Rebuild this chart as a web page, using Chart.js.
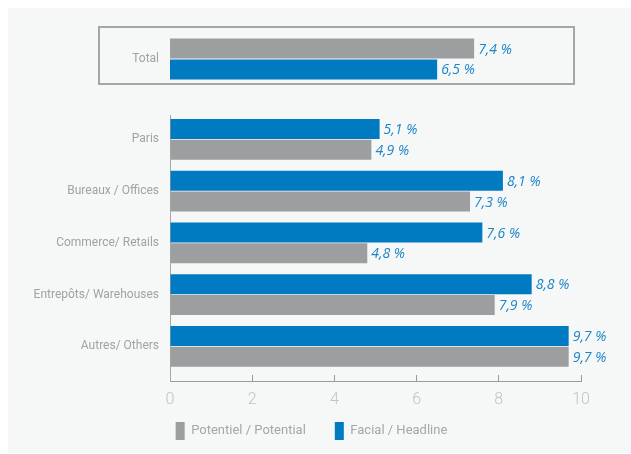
<!DOCTYPE html>
<html>
<head>
<meta charset="utf-8">
<script src="https://cdn.jsdelivr.net/npm/chart.js@4.4.0/dist/chart.umd.min.js"></script>
<style>
  html, body { margin: 0; padding: 0; background: #fff; }
  #wrap { position: relative; width: 631px; height: 454px; overflow: hidden; }
  #panel { position: absolute; left: 8px; top: 8px; width: 640px; height: 445px; background: #f6f7f7; }
  #totalBox { position: absolute; left: 98px; top: 26px; width: 473px; height: 55px; border: 2px solid #a6a6a6; }
  #cTotal { position: absolute; left: 0; top: 33px; }
  #cMain { position: absolute; left: 0; top: 0; }
</style>
</head>
<body>
<div id="wrap">
  <div id="panel"></div>
  <div id="totalBox"></div>
  <canvas id="cTotal" width="631" height="52"></canvas>
  <canvas id="cMain" width="631" height="454"></canvas>
</div>
<script>
// Rendement / yield chart: total box on top, then sectors.
const SERIES_NAMES = ['Potentiel / Potential', 'Facial / Headline'];

const TOTAL_LABELS = ['Total'];
const TOTAL_POTENTIEL = [7.4];
const TOTAL_FACIAL = [6.5];

const CATEGORIES = ['Paris', 'Bureaux / Offices', 'Commerce/ Retails', 'Entrepôts/ Warehouses', 'Autres/ Others'];
const FACIAL = [5.1, 8.1, 7.6, 8.8, 9.7];
const POTENTIEL = [4.9, 7.3, 4.8, 7.9, 9.7];

const X_MIN = 0, X_MAX = 10, X_STEP = 2;

const GRAY = '#9d9ea0';
const BLUE = '#007bc2';
const LABEL_GREY = '#a2a2a2';

Chart.defaults.font.family = 'Roboto';

// blue italic value after each bar, e.g. "7,4 %"
const valueLabels = {
  id: 'valueLabels',
  afterDatasetsDraw(chart) {
    const ctx = chart.ctx;
    ctx.save();
    ctx.font = 'italic 14px "Open Sans"';
    ctx.fillStyle = '#1b86c8';
    ctx.textBaseline = 'middle';
    ctx.textAlign = 'left';
    chart.data.datasets.forEach((ds, di) => {
      chart.getDatasetMeta(di).data.forEach((bar, i) => {
        const raw = ds.data[i];
        const v = typeof raw === 'object' ? raw.x : raw;
        ctx.fillText(v.toFixed(1).replace('.', ',') + ' %', bar.x + 4, bar.y + 1);
      });
    });
    ctx.restore();
  }
};

const noPad = (s) => { s.paddingTop = 0; s.paddingBottom = 0; };

// total chart (inside the framed box)
new Chart(document.getElementById('cTotal'), {
  type: 'bar',
  data: {
    labels: TOTAL_LABELS,
    datasets: [
      { label: SERIES_NAMES[0], data: TOTAL_POTENTIEL, backgroundColor: GRAY },
      { label: SERIES_NAMES[1], data: TOTAL_FACIAL, backgroundColor: BLUE }
    ]
  },
  options: {
    responsive: false,
    animation: false,
    indexAxis: 'y',
    layout: { padding: { left: 17, right: 50, top: 0, bottom: 0 } },
    categoryPercentage: 0.802,
    barPercentage: 0.964,
    plugins: { legend: { display: false }, tooltip: { enabled: false } },
    scales: {
      x: { min: X_MIN, max: X_MAX, display: false },
      y: {
        grid: { display: false, drawTicks: false },
        border: { display: false },
        ticks: { color: LABEL_GREY, font: { size: 12 }, padding: 11 },
        afterFit: (s) => { s.width = 153; noPad(s); }
      }
    }
  },
  plugins: [valueLabels]
});

// main chart
new Chart(document.getElementById('cMain'), {
  type: 'bar',
  data: {
    datasets: [
      { label: SERIES_NAMES[1], data: FACIAL.map((v, i) => ({ x: v, y: i })), backgroundColor: BLUE },
      { label: SERIES_NAMES[0], data: POTENTIEL.map((v, i) => ({ x: v, y: i })), backgroundColor: GRAY }
    ]
  },
  options: {
    responsive: false,
    animation: false,
    indexAxis: 'y',
    layout: { padding: { left: 17, right: 25, top: 115, bottom: 4 } },
    categoryPercentage: 0.802,
    barPercentage: 0.964,
    plugins: {
      tooltip: { enabled: false },
      legend: {
        position: 'bottom',
        reverse: true,
        labels: { boxWidth: 9, boxHeight: 18, padding: 29, color: '#a6a6a6', font: { size: 13 } }
      }
    },
    scales: {
      x: {
        type: 'linear',
        min: X_MIN, max: X_MAX,
        ticks: { stepSize: X_STEP, color: '#c2c2c2', font: { size: 16, weight: '300' }, mirror: true, padding: -29 },
        grid: { drawOnChartArea: false, drawTicks: true, tickLength: -6, color: '#9a9a9a' },
        border: { display: true, color: '#9a9a9a', dash: [2, 1] },
        afterFit: (s) => { s.height = 12; s.paddingRight = 50; }
      },
      y: {
        type: 'linear',
        reverse: true,
        offset: false,
        bounds: 'data',
        min: -0.473, max: 4.667,
        grid: { display: false, drawTicks: false },
        border: { display: true, color: '#a8a8a8', dash: [3, 1] },
        afterBuildTicks: (s) => { s.ticks = CATEGORIES.map((_, i) => ({ value: i })); },
        ticks: {
          autoSkip: false,
          color: LABEL_GREY,
          font: { size: 12 },
          padding: 11,
          callback: (v) => CATEGORIES[v]
        },
        afterFit: (s) => { s.width = 153; noPad(s); }
      }
    }
  },
  plugins: [valueLabels]
});
</script>
</body>
</html>
